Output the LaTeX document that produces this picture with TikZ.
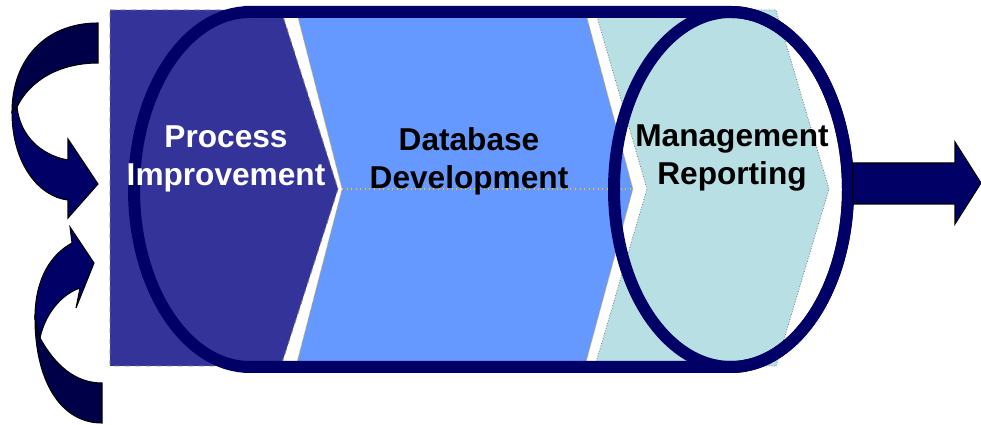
\documentclass[tikz,border=0pt]{standalone}
\usepackage{fontspec}
\setmainfont{Liberation Sans}
\definecolor{procblue}{HTML}{333399}
\definecolor{dbblue}{HTML}{6699FF}
\definecolor{repteal}{HTML}{B8DFE3}
\definecolor{cannavy}{HTML}{000066}
\definecolor{foldnavy}{HTML}{000048}
\definecolor{dotgold}{HTML}{FFC000}
\begin{document}
\begin{tikzpicture}[x=0.02cm,y=-0.02cm,
    stage/.style={font=\bfseries\fontsize{18}{21.6}\selectfont,align=center},
    ribbon/.style={draw=black,line width=0.6pt,fill=cannavy},
    ribbonback/.style={draw=black,line width=0.6pt,fill=foldnavy}]
  \useasboundingbox (0,0) rectangle (981,425);
  \filldraw[fill=procblue,draw=gray,dashed,line width=0.5pt] (110,10) -- (281,10) -- (338,189) -- (281,366) -- (110,366) -- cycle;
  \filldraw[fill=dbblue,draw=dotgold,densely dotted,line width=0.5pt] (296,10) -- (585,10) -- (633,189) -- (585,366) -- (296,366) -- (342,189) -- cycle;
  \draw[dotgold,dotted,line width=0.6pt] (342,189) -- (633,189);
  \filldraw[fill=repteal,draw=gray,densely dotted,line width=0.5pt] (595,10) -- (776,10) -- (829,189) -- (776,366) -- (595,366) -- (647,189) -- cycle;
  \draw[cannavy,line width=0.24cm] (250,12) -- (731,12) arc[start angle=-90,end angle=90,x radius=117,y radius=177.5]
    -- (250,367) arc[start angle=90,end angle=270,x radius=116,y radius=177.5] -- cycle;
  \draw[cannavy,line width=0.24cm] (731,189.5) ellipse [x radius=117,y radius=177.5];
  \filldraw[ribbon] (853,163) -- (955,163) -- (955,142) -- (981,183) -- (955,224) -- (955,204) -- (853,204) -- cycle;
  \filldraw[ribbonback] (98,23) .. controls (45,23) and (12,60) .. (12,112) -- (17,107) .. controls (30,80) and (60,63) .. (98,63) -- cycle;
  \filldraw[ribbon] (12,112) .. controls (12,165) and (40,197) .. (68,200) -- (68,218) -- (98,184) -- (68,139) -- (68,160)
    .. controls (40,155) and (20,135) .. (17,107) -- cycle;
  \filldraw[ribbonback] (102,423) .. controls (60,423) and (35,380) .. (35,318) -- (40,338) .. controls (55,365) and (75,383) .. (102,383) -- cycle;
  \filldraw[ribbon] (35,318) .. controls (35,280) and (50,255) .. (72,243) -- (70,227) -- (94,263) -- (76,308) -- (80,288)
    .. controls (60,295) and (45,315) .. (40,338) -- cycle;
  \node[stage,text=white] (proc) at (226,159) {Process\\Improvement};
  \node[stage] (db) at (469,161) {Database\\Development};
  \node[stage] (rep) at (732,158) {Management\\Reporting};
\end{tikzpicture}
\end{document}
